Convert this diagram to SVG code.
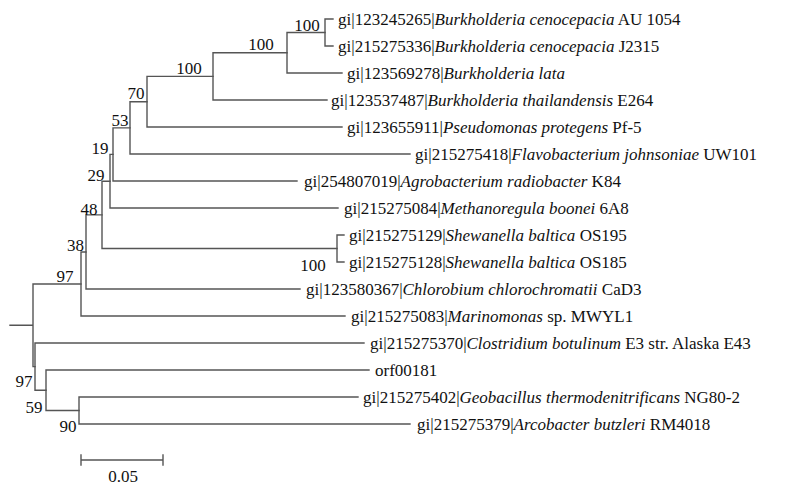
<svg xmlns="http://www.w3.org/2000/svg" width="794" height="485" viewBox="0 0 794 485">
<style>
.br{stroke:#555;stroke-width:1.4;fill:none;stroke-linecap:square}
.t{font-family:'Liberation Serif','DejaVu Serif','Times New Roman',serif;font-size:17px;fill:#111}
.bs{text-anchor:middle}
.sp{font-style:italic}
</style>
<rect width="794" height="485" fill="#fff"/>
<g id="connectors">
<path class="br" d="M10,325.3H33 M33,284V366.6 M33,284H81 M33,366.6H35"/>
<path class="br" d="M81,252V316 M81,252H86 M81,316H345"/>
<path class="br" d="M86,214.9V289 M86,214.9H102 M86,289H300"/>
<path class="br" d="M102,181.2V248.5 M102,181.2H110 M102,248.5H337"/>
<path class="br" d="M337,235V262 M337,235H344 M337,262H344"/>
<path class="br" d="M110,154.4V208 M110,154.4H113 M110,208H338"/>
<path class="br" d="M113,127.85V181 M113,127.85H130 M113,181H297"/>
<path class="br" d="M130,101.7V154 M130,101.7H147 M130,154H410"/>
<path class="br" d="M147,76.4V127 M147,76.4H213 M147,127H342"/>
<path class="br" d="M213,52.75V100 M213,52.75H287 M213,100H327"/>
<path class="br" d="M287,32.5V73 M287,32.5H325 M287,73H342"/>
<path class="br" d="M325,19V46 M325,19H333 M325,46H333"/>
<path class="br" d="M35,343V390.25 M35,343H364 M35,390.25H46"/>
<path class="br" d="M46,370V410.5 M46,370H369 M46,410.5H79"/>
<path class="br" d="M79,397V424 M79,397H358 M79,424H410"/>
<path class="br" d="M81,460H163 M81,455V465 M163,455V465"/>
</g>
<g id="bootstrap" class="t" font-family="Liberation Serif, DejaVu Serif, serif">
<text class="bs" x="307" y="31">100</text>
<text class="bs" x="261" y="50">100</text>
<text class="bs" x="189" y="74">100</text>
<text class="bs" x="136" y="99">70</text>
<text class="bs" x="120" y="126">53</text>
<text class="bs" x="100" y="154">19</text>
<text class="bs" x="96" y="181">29</text>
<text class="bs" x="89" y="215">48</text>
<text class="bs" x="313" y="271">100</text>
<text class="bs" x="75.5" y="251">38</text>
<text class="bs" x="65" y="282">97</text>
<text class="bs" x="24" y="387">97</text>
<text class="bs" x="34" y="413">59</text>
<text class="bs" x="68" y="432">90</text>
</g>
<g class="t" font-family="Liberation Serif, DejaVu Serif, serif">
<g id="n1"><text x="338" y="25">gi|123245265|<tspan class="sp">Burkholderia cenocepacia</tspan> AU 1054</text></g>
<g id="n2"><text x="338" y="52">gi|215275336|<tspan class="sp">Burkholderia cenocepacia</tspan> J2315</text></g>
<g id="n3"><text x="347" y="79">gi|123569278|<tspan class="sp">Burkholderia lata</tspan></text></g>
<g id="n4"><text x="331" y="106">gi|123537487|<tspan class="sp">Burkholderia thailandensis</tspan> E264</text></g>
<g id="n5"><text x="347" y="133">gi|123655911|<tspan class="sp">Pseudomonas protegens</tspan> Pf-5</text></g>
<g id="n6"><text x="415" y="160">gi|215275418|<tspan class="sp">Flavobacterium johnsoniae</tspan> UW101</text></g>
<g id="n7"><text x="304" y="187">gi|254807019|<tspan class="sp">Agrobacterium radiobacter</tspan> K84</text></g>
<g id="n8"><text x="344" y="214">gi|215275084|<tspan class="sp">Methanoregula boonei</tspan> 6A8</text></g>
<g id="n9"><text x="349" y="241">gi|215275129|<tspan class="sp">Shewanella baltica</tspan> OS195</text></g>
<g id="n10"><text x="349" y="268">gi|215275128|<tspan class="sp">Shewanella baltica</tspan> OS185</text></g>
<g id="n11"><text x="306" y="295">gi|123580367|<tspan class="sp">Chlorobium chlorochromatii</tspan> CaD3</text></g>
<g id="n12"><text x="351" y="322">gi|215275083|<tspan class="sp">Marinomonas</tspan> sp. MWYL1</text></g>
<g id="n13"><text x="370" y="349">gi|215275370|<tspan class="sp">Clostridium botulinum</tspan> E3 str. Alaska E43</text></g>
<g id="n14"><text x="375" y="376">orf00181</text></g>
<g id="n15"><text x="363" y="403">gi|215275402|<tspan class="sp">Geobacillus thermodenitrificans</tspan> NG80-2</text></g>
<g id="n16"><text x="417" y="430">gi|215275379|<tspan class="sp">Arcobacter butzleri</tspan> RM4018</text></g>
<g id="scale"><text class="bs" x="123" y="482">0.05</text></g>
</g>
</svg>
